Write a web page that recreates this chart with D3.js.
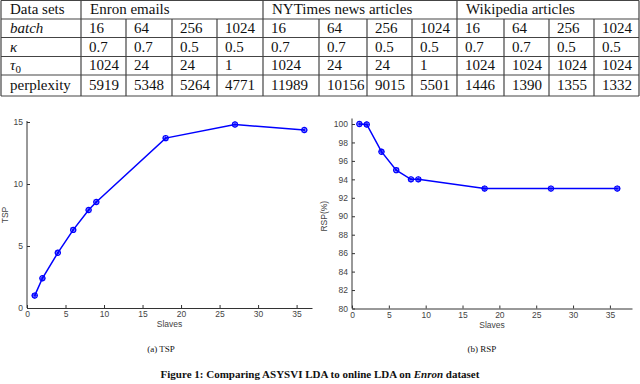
<!DOCTYPE html>
<html>
<head>
<meta charset="utf-8">
<script src="https://cdn.jsdelivr.net/npm/d3@7"></script>
<style>
  body { margin: 0; background: #fff; }
  svg { display: block; }
</style>
</head>
<body>
<div id="fig"></div>
<script>
// table data
var datasets = ["Enron emails", "NYTimes news articles", "Wikipedia articles"];
var batch = [16, 64, 256, 1024, 16, 64, 256, 1024, 16, 64, 256, 1024];
var kappa = ["0.7", "0.7", "0.5", "0.5", "0.7", "0.7", "0.5", "0.5", "0.7", "0.7", "0.5", "0.5"];
var tau0 = [1024, 24, 24, 1, 1024, 24, 24, 1, 1024, 1024, 1024, 1024];
var perplexity = [5919, 5348, 5264, 4771, 11989, 10156, 9015, 5501, 1446, 1390, 1355, 1332];

// chart data
var slaves = [1, 2, 4, 6, 8, 9, 18, 27, 36];
var tsp = [1.0, 2.4, 4.45, 6.3, 7.9, 8.55, 13.7, 14.8, 14.35];
var rsp = [100, 99.95, 97, 95, 94, 94, 93, 93, 93];
var tspTicks = [0, 5, 10, 15];
var rspTicks = [80, 82, 84, 86, 88, 90, 92, 94, 96, 98, 100];
var slaveTicks = [0, 5, 10, 15, 20, 25, 30, 35];

var svg = d3.select("#fig").append("svg")
    .attr("width", 640)
    .attr("height", 384);

//---- table ----
var colX = [1, 81, 126, 172, 217, 263, 319, 367, 412, 457, 504, 549, 594, 639];
var rowY = [0.5, 19, 37.5, 56.5, 75, 96];
var serif = "'Liberation Serif', 'DejaVu Serif', serif";
var table = svg.append("g").attr("font-family", serif).attr("font-size", 15).attr("fill", "#111");

// horizontal lines
rowY.forEach(function(y) {
  table.append("line")
    .attr("x1", colX[0]).attr("x2", colX[colX.length - 1])
    .attr("y1", y).attr("y2", y)
    .attr("stroke", "#444").attr("stroke-width", 1.2);
});
// vertical lines
colX.forEach(function(x, i) {
  var group = (i == 0 || i == 1 || (i - 1) % 4 == 0) || i == colX.length - 1;
  table.append("line")
    .attr("x1", x).attr("x2", x)
    .attr("y1", group ? rowY[0] : rowY[1]).attr("y2", rowY[rowY.length - 1])
    .attr("stroke", "#444").attr("stroke-width", 1.2);
});

// row labels
var labelX = 10;
table.append("text").attr("x", labelX).attr("y", rowY[1] - 5).text("Data sets");
table.append("text").attr("x", labelX).attr("y", rowY[2] - 5).attr("font-style", "italic").text("batch");
table.append("text").attr("x", labelX).attr("y", rowY[3] - 5).attr("font-style", "italic").text("κ");
var tauLabel = table.append("text").attr("x", labelX).attr("y", rowY[4] - 5);
tauLabel.append("tspan").attr("font-style", "italic").text("τ");
tauLabel.append("tspan").attr("font-size", 11).attr("dy", 3).text("0");
table.append("text").attr("x", labelX).attr("y", rowY[5] - 6).text("perplexity");

datasets.forEach(function(d, i) {
  table.append("text").attr("x", colX[1 + i * 4] + 9).attr("y", rowY[1] - 5).text(d);
});

var rows = [batch, kappa, tau0, perplexity];
rows.forEach(function(vals, r) {
  vals.forEach(function(v, c) {
    table.append("text")
      .attr("x", colX[c + 1] + 8)
      .attr("y", rowY[r + 2] - (r == 3 ? 6 : 5))
      .text(v);
  });
});

//---- line charts ----
var sans = "'Liberation Sans', Arial, sans-serif";

function drawChart(opt) {
  var x = d3.scaleLinear().domain(opt.xDomain).range(opt.xRange);
  var y = d3.scaleLinear().domain(opt.yDomain).range(opt.yRange);
  var g = svg.append("g");

  var xAxis = g.append("g")
    .attr("transform", `translate(0, ${opt.yRange[0]})`)
    .call(d3.axisBottom(x).tickValues(slaveTicks).tickSizeInner(-3).tickSizeOuter(0).tickPadding(3));
  var yAxis = g.append("g")
    .attr("transform", `translate(${opt.xRange[0]}, 0)`)
    .call(d3.axisLeft(y).tickValues(opt.yTicks).tickSizeInner(-3).tickSizeOuter(0).tickPadding(4));
  [xAxis, yAxis].forEach(function(a) {
    a.select(".domain").attr("stroke", "#333");
    a.selectAll(".tick line").attr("stroke", "#333");
    a.selectAll("text").attr("font-family", sans).attr("font-size", 8.5).attr("fill", "#444");
  });
  // stretch y-axis a little above last tick
  yAxis.select(".domain").attr("d", `M0,${opt.yRange[0]}V${opt.yTop}`);

  var line = d3.line().x(d => x(d[0])).y(d => y(d[1]));
  var pts = slaves.map((s, i) => [s, opt.values[i]]);
  g.append("path")
    .datum(pts)
    .attr("d", line)
    .attr("fill", "none")
    .attr("stroke", "#0000ff")
    .attr("stroke-width", 1.5);

  var m = g.selectAll("g.marker").data(pts).enter().append("g")
    .attr("transform", d => `translate(${x(d[0])}, ${y(d[1])})`);
  m.append("circle").attr("r", 2.6).attr("fill", "none").attr("stroke", "#0000ff").attr("stroke-width", 1.2);
  m.append("path").attr("d", "M-3,0H3M0,-3V3M-2.2,-2.2L2.2,2.2M-2.2,2.2L2.2,-2.2")
    .attr("stroke", "#0000ff").attr("stroke-width", 0.8);

  g.append("text")
    .attr("x", (opt.xRange[0] + opt.xRange[1]) / 2)
    .attr("y", opt.yRange[0] + 19)
    .attr("text-anchor", "middle")
    .attr("font-family", sans).attr("font-size", 8.5).attr("fill", "#444")
    .text("Slaves");

  g.append("text")
    .attr("transform", `translate(${opt.yLabelX}, ${(opt.yRange[0] + opt.yRange[1]) / 2}) rotate(-90)`)
    .attr("text-anchor", "middle")
    .attr("font-family", sans).attr("font-size", 8.5).attr("fill", "#444")
    .text(opt.yLabel);

  svg.append("text")
    .attr("x", opt.captionX).attr("y", 352)
    .attr("text-anchor", "middle")
    .attr("font-family", serif).attr("font-size", 9).attr("fill", "#111")
    .text(opt.caption);
}

drawChart({
  values: tsp, xDomain: [0, 37], xRange: [27, 312],
  yDomain: [0, 15], yRange: [308, 122], yTop: 121, yTicks: tspTicks,
  yLabel: "TSP", yLabelX: 8, caption: "(a) TSP", captionX: 161
});
drawChart({
  values: rsp, xDomain: [0, 38], xRange: [352, 632],
  yDomain: [80, 100], yRange: [308.5, 124], yTop: 118.5, yTicks: rspTicks,
  yLabel: "RSP(%)", yLabelX: 327, caption: "(b) RSP", captionX: 482
});

// figure caption
var cap = svg.append("text")
  .attr("x", 320).attr("y", 378)
  .attr("text-anchor", "middle")
  .attr("font-family", serif).attr("font-size", 11).attr("font-weight", "bold").attr("fill", "#111");
cap.append("tspan").text("Figure 1: Comparing ASYSVI LDA to online LDA on ");
cap.append("tspan").attr("font-style", "italic").text("Enron");
cap.append("tspan").text(" dataset");
</script>
</body>
</html>
